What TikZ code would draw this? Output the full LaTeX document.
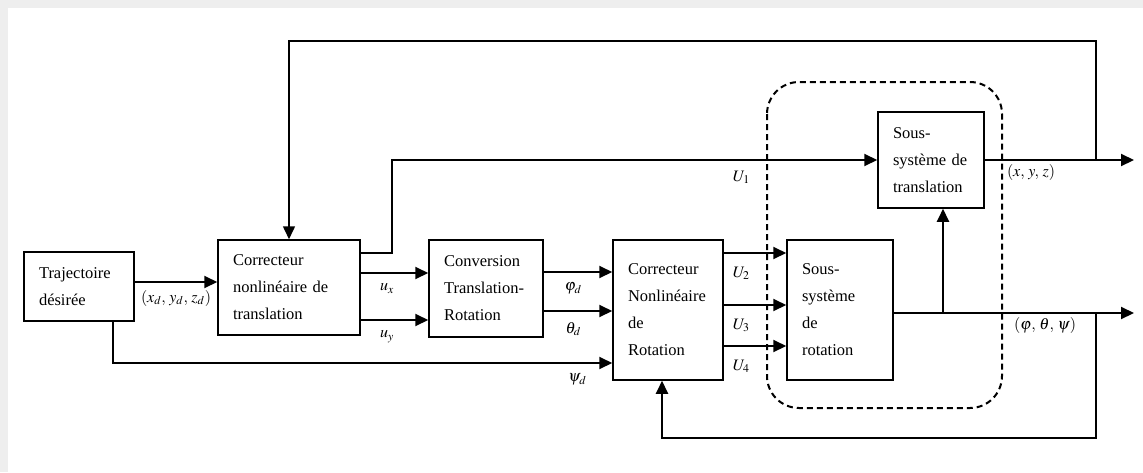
\documentclass[tikz,border=0pt]{standalone}
\usepackage{mathptmx}
\usepackage{fontspec}
\setmainfont{Liberation Serif}
\usetikzlibrary{arrows.meta,positioning}
\definecolor{framegray}{HTML}{EEEEEE}
\tikzset{
  block/.style={draw, line width=1.5pt, inner xsep=15pt, inner ysep=0pt, align=left,
                font=\fontsize{16.5}{27}\selectfont},
  wire/.style={line width=2pt, -{Triangle[length=13pt,width=12pt]}},
  sig/.style={font=\fontsize{16}{18}\selectfont, inner sep=2pt, below=8pt},
  zone/.style={line width=2pt, dash pattern=on 6pt off 4pt, rounded corners=32pt},
}

\begin{document}
\begin{tikzpicture}[x=1pt, y=-1pt]
  \fill[white] (0,0) rectangle (1143,472);
  \fill[framegray] (0,0) rectangle (1143,8);
  \fill[framegray] (0,0) rectangle (8,472);
  \useasboundingbox (0,0) rectangle (1143,472);

  % blocs
  \node[block, minimum width=110pt, minimum height=69pt, text width=80pt] (traj) at (79,286.5) {Trajectoire\\désirée};
  \node[block, minimum width=142pt, minimum height=95pt, text width=112pt] (ctrans) at (289,287.5) {Correcteur\\nonlinéaire de\\translation};
  \node[block, minimum width=114pt, minimum height=97pt, text width=84pt] (conv) at (486,288.5) {Conversion\\Translation-\\Rotation};
  \node[block, minimum width=110pt, minimum height=140pt, text width=80pt] (crot) at (668,310) {Correcteur\\Nonlinéaire\\de\\Rotation};
  \node[block, minimum width=106pt, minimum height=140pt, text width=76pt] (ssrot) at (840,310) {Sous-\\système\\de\\rotation};
  \node[block, minimum width=106pt, minimum height=96pt, text width=76pt] (sstrans) at (931,160) {Sous-\\système de\\translation};

  \draw[zone] (767,82) rectangle (1002,408);

  \coordinate (kU1) at (392,160);
  \coordinate (ktop) at (289,41);
  \coordinate (kbot) at (662,438);
  \coordinate (jxyz) at (1096,160);
  \coordinate (jang) at (1096,313);
  \coordinate (jbr) at (943,313);
  \coordinate (oxyz) at (1134,160);
  \coordinate (oang) at (1134,313);

  % translation
  \draw[wire] ([yshift=4.5pt]traj.east) coordinate (a0) -- (a0 -| ctrans.west) node[sig, below=5pt, midway] {$(x_d,\, y_d,\, z_d)$};
  \draw[wire] ([xshift=34pt]traj.south) |- ([yshift=-53pt]crot.west) node[sig, pos=0.965] {$\psi_d$};
  \draw[wire] ([yshift=34.5pt]ctrans.east) -| (kU1) -- (kU1 -| sstrans.west) node[sig, pos=0.72] {$U_1$};
  \draw[wire] ([yshift=14.5pt]ctrans.east) coordinate (a1) -- (a1 -| conv.west) node[sig, pos=0.39] {$u_x$};
  \draw[wire] ([yshift=-32.5pt]ctrans.east) coordinate (a2) -- (a2 -| conv.west) node[sig, pos=0.39] {$u_y$};
  \draw[wire] ([yshift=16.5pt]conv.east) coordinate (a3) -- (a3 -| crot.west) node[sig, pos=0.43] {$\varphi_d$};
  \draw[wire] ([yshift=-22.5pt]conv.east) coordinate (a4) -- (a4 -| crot.west) node[sig, pos=0.43] {$\theta_d$};

  % rotation
  \draw[wire] ([yshift=57pt]crot.east) coordinate (b2) -- (b2 -| ssrot.west) node[sig, below=11pt, pos=0.28] {$U_2$};
  \draw[wire] ([yshift=5pt]crot.east) coordinate (b3) -- (b3 -| ssrot.west) node[sig, below=11pt, pos=0.28] {$U_3$};
  \draw[wire] ([yshift=-36pt]crot.east) coordinate (b4) -- (b4 -| ssrot.west) node[sig, below=11pt, pos=0.28] {$U_4$};

  % sorties
  \draw[wire] (sstrans.east) -- (oxyz) node[sig, below=1pt, pos=0.31] {$(x,\, y,\, z)$};
  \draw[wire] ([yshift=-3pt]ssrot.east) -- (oang) node[sig, below=1pt, pos=0.63] {$(\varphi,\, \theta,\, \psi)$};
  \draw[wire] (jbr) -- (jbr |- sstrans.south);

  % retours
  \draw[wire, line width=1.5pt] (jxyz) |- (ktop) -- (ctrans.north);
  \draw[wire] (jang) |- (kbot) -- (kbot |- crot.south);
\end{tikzpicture}
\end{document}
